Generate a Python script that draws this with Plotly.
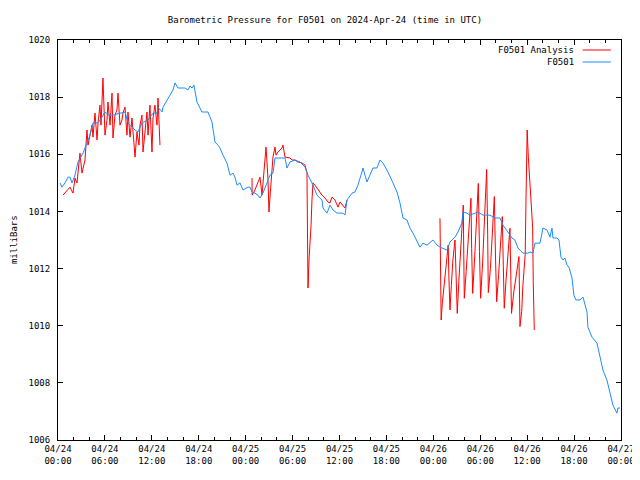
import plotly.graph_objects as go
import pandas as pd

# ---- data (hours after 2024-04-24 00:00 UTC, millibars) ----
blue_hours = [0.26,0.51,0.9,1.28,1.53,1.79,2.17,2.56,3.2,3.71,4.09,4.48,5.12,5.63,6.01,6.52,7.03,7.54,7.93,8.57,
              8.95,9.46,9.85,10.23,10.74,11.51,12.15,12.66,12.79,13.3,13.43,13.81,14.32,14.71,14.96,15.35,15.86,16.24,16.62,16.88,
              17.14,17.39,17.77,18.41,18.93,19.18,19.69,20.08,20.46,20.72,21.1,21.61,22.0,22.38,22.63,22.89,23.27,23.66,24.3,24.55,
              24.81,25.19,25.58,25.83,26.21,26.47,26.73,27.11,27.49,27.75,28.39,29.03,29.28,29.67,30.31,30.95,31.59,31.97,32.61,33.12,
              33.76,33.89,34.4,34.78,35.17,35.68,36.45,36.7,36.96,37.6,37.98,38.36,38.87,39.0,39.51,39.9,40.28,40.79,41.18,41.56,
              42.2,42.84,43.35,43.73,44.12,44.63,45.01,45.4,45.91,46.29,46.68,47.19,47.95,48.47,48.85,49.74,50.13,50.77,51.15,51.66,
              51.79,52.3,52.69,53.32,53.71,54.35,55.24,55.88,56.52,56.91,57.54,58.06,58.44,58.82,59.46,60.1,60.36,60.74,61.0,61.64,
              62.02,62.53,62.92,63.17,63.3,63.81,64.07,64.32,64.58,64.83,65.09,65.35,65.73,65.98,66.24,66.75,67.14,67.39,67.65,67.77,
              68.29,68.93,69.31,69.69,70.2,70.59,70.97,71.48,71.61,71.87]
blue_values = [1015.0,1014.85,1015.0,1015.2,1015.2,1015.0,1015.27,1015.73,1016.04,1016.43,1016.67,1017.1,1017.1,1017.3,1017.48,1017.37,1017.37,1017.41,1017.44,1017.48,
               1017.1,1016.95,1016.85,1016.78,1017.1,1017.2,1017.44,1017.44,1017.65,1017.48,1017.65,1017.83,1018.07,1018.25,1018.5,1018.32,1018.32,1018.32,1018.25,1018.39,
               1018.32,1018.42,1017.83,1017.48,1017.48,1017.48,1017.13,1016.43,1016.32,1016.22,1015.97,1015.69,1015.27,1015.34,1015.2,1014.92,1015.0,1014.75,1014.85,1014.85,
               1014.68,1014.64,1014.57,1014.47,1014.64,1014.82,1015.0,1015.27,1015.34,1015.87,1015.87,1015.87,1015.52,1015.73,1015.8,1015.73,1015.55,1015.27,1014.92,1014.57,
               1014.4,1014.12,1013.94,1014.22,1014.05,1013.94,1013.94,1013.87,1014.4,1014.64,1014.68,1014.92,1015.38,1015.52,1015.03,1015.27,1015.52,1015.52,1015.8,1015.69,
               1015.38,1015.0,1014.68,1014.3,1013.77,1013.7,1013.42,1013.24,1012.93,1012.75,1012.89,1012.82,1013.0,1012.82,1012.75,1012.65,1012.93,1013.1,1013.28,1013.6,
               1013.98,1013.94,1013.87,1013.94,1013.98,1013.87,1013.87,1013.77,1013.77,1013.52,1013.28,1013.07,1013.0,1012.72,1012.54,1012.54,1012.58,1012.54,1012.89,1012.89,
               1013.42,1013.35,1013.1,1013.42,1013.07,1013.07,1013.0,1012.4,1012.3,1012.37,1012.12,1012.05,1011.67,1011.07,1010.9,1010.9,1011.0,1010.72,1010.48,1009.95,
               1009.6,1009.39,1008.9,1008.45,1008.1,1007.68,1007.22,1006.94,1007.12,1007.12]

red_hours = [0.64,1.15,1.53,1.92,2.17,2.43,2.81,3.07,3.45,3.71,3.84,4.35,4.48,4.73,4.99,5.12,5.37,5.5,5.63,5.75,
             6.01,6.27,6.39,6.65,6.91,7.03,7.29,7.54,7.67,7.93,8.18,8.31,8.57,8.82,8.95,9.21,9.46,9.85,10.1,10.36,
             10.49,10.74,10.87,11.13,11.38,11.51,11.76,12.02,12.15,12.4,12.66,12.79,13.04,
             None,
             24.81,24.83,25.19,25.58,25.83,26.09,26.21,26.47,26.6,26.85,26.98,27.11,27.37,27.49,27.75,27.88,28.13,28.64,28.77,29.03,
             29.67,29.92,30.31,30.69,31.2,31.59,31.84,31.9,31.97,32.1,32.23,32.35,32.48,32.61,32.86,33.25,33.76,34.14,34.53,34.78,
             35.04,35.42,35.81,36.06,36.45,36.7,36.96,
             None,
             48.85,48.95,49.0,49.15,49.4,49.65,49.9,50.0,50.13,50.3,50.5,50.77,50.9,51.06,51.25,51.5,51.7,51.83,51.9,51.96,
             52.2,52.5,52.81,52.9,53.03,53.25,53.5,53.75,53.9,54.05,54.3,54.55,54.82,54.95,55.03,55.3,55.55,55.8,55.95,56.1,
             56.35,56.6,56.82,56.95,57.07,57.3,57.55,57.8,57.9,58.0,58.3,58.65,58.95,59.08,59.3,59.45,59.6,59.75,59.85,60.0,
             60.15,60.35,60.56,60.7,60.78,60.91]
red_values = [1014.57,1014.75,1014.85,1014.64,1015.17,1015.0,1016.04,1015.34,1015.8,1016.85,1016.32,1017.02,1016.6,1017.44,1016.5,1017.1,1017.72,1017.02,1018.14,1018.67,
              1016.67,1017.2,1017.83,1017.02,1018.14,1016.57,1017.37,1017.55,1018.14,1017.02,1017.2,1017.44,1017.65,1016.67,1017.48,1016.6,1017.27,1015.9,1016.78,1016.32,
              1017.02,1017.37,1016.08,1016.78,1017.48,1016.67,1017.72,1016.08,1017.27,1017.72,1017.02,1017.97,1016.32,
              None,
              1015.17,1014.57,1014.75,1015.03,1015.2,1014.57,1015.03,1015.87,1016.25,1015.17,1013.98,1014.5,1015.45,1015.9,1016.25,1015.97,1016.08,1016.22,1016.32,1015.9,
              1015.87,1015.8,1015.8,1015.73,1015.7,1015.62,1015.35,1012.55,1011.32,1012.3,1012.75,1013.45,1014.4,1015.0,1014.92,1014.75,1014.57,1014.47,1014.33,1014.3,
              1014.5,1014.4,1014.15,1014.33,1014.22,1014.12,1014.4,
              None,
              1013.76,1011.9,1010.2,1010.8,1011.5,1012.2,1012.82,1011.6,1010.55,1011.4,1012.3,1013.0,1011.8,1010.43,1011.5,1012.6,1013.4,1014.22,1012.3,1010.96,
              1011.9,1013.1,1014.46,1012.7,1011.13,1012.2,1013.6,1014.98,1012.6,1010.96,1012.2,1013.8,1015.47,1013.2,1011.16,1012.0,1013.3,1014.52,1012.4,1010.84,
              1011.8,1012.9,1013.82,1012.1,1010.61,1011.6,1012.6,1013.41,1011.8,1010.43,1011.2,1011.9,1012.42,1009.97,1010.5,1011.4,1012.0,1012.5,1014.4,1016.85,
              1015.9,1015.0,1014.3,1013.45,1011.5,1009.85]

series_names = ["F0501 Analysis", "F0501"]
series_colors = ["#ff0000", "#1a8cff"]
title_text = "Barometric Pressure for F0501 on 2024-Apr-24 (time in UTC)"
y_label = "milliBars"

base = pd.Timestamp("2024-04-24 00:00:00")


def to_times(hours):
    return [base + pd.Timedelta(hours=h) if h is not None else None for h in hours]


FONT = "DejaVu Sans Mono"
TXT = dict(family=FONT, size=9, color="black")

fig = go.Figure()
fig.add_trace(go.Scatter(x=to_times(red_hours), y=red_values, mode="lines",
                         line=dict(color=series_colors[0], width=1), name=series_names[0],
                         connectgaps=False))
fig.add_trace(go.Scatter(x=to_times(blue_hours), y=blue_values, mode="lines",
                         line=dict(color=series_colors[1], width=1), name=series_names[1]))

# page body has an 8px margin, so the figure is 8px smaller and margins shifted
fig.update_layout(
    width=632, height=472,
    margin=dict(l=50, r=19, t=32, b=40, autoexpand=False),
    paper_bgcolor="white", plot_bgcolor="white",
    showlegend=False,
    font=TXT,
    title=dict(text=title_text, x=0.5016, xanchor="center", y=0.9746, yanchor="middle", font=TXT),
)

fig.update_xaxes(
    type="date",
    range=[base, base + pd.Timedelta(hours=72)],
    tick0=base, dtick=6 * 3600 * 1000,
    tickformat="%m/%d<br>%H:%M",
    ticks="inside", ticklen=5, tickcolor="black", tickwidth=1,
    showline=True, linecolor="black", linewidth=1, mirror="ticks",
    showgrid=False, zeroline=False, automargin=False,
    minor=dict(dtick=2 * 3600 * 1000, tick0=base, ticks="inside", ticklen=3,
               tickcolor="black", showgrid=False),
    tickfont=TXT,
)
fig.update_yaxes(
    range=[1006, 1020], dtick=2, tick0=1006,
    ticks="inside", ticklen=5, tickcolor="black", tickwidth=1,
    showline=True, linecolor="black", linewidth=1, mirror="ticks",
    showgrid=False, zeroline=False, automargin=False,
    ticklabelstandoff=5,
    tickfont=TXT,
)

fig.add_annotation(xref="paper", yref="paper", x=-0.078, y=0.5, text=y_label,
                   textangle=-90, showarrow=False, xanchor="center", yanchor="middle", font=TXT)

# gnuplot-style legend (text then sample line), top right inside the plot
legend_rows = [0.975, 0.945]
for name, color, yy in zip(series_names, series_colors, legend_rows):
    fig.add_annotation(xref="paper", yref="paper", x=0.92, y=yy, text=name,
                       showarrow=False, xanchor="right", yanchor="middle", font=TXT)
    fig.add_shape(type="line", xref="paper", yref="paper", x0=0.932, x1=0.982,
                  y0=yy, y1=yy, line=dict(color=color, width=1))

fig.write_html("out.html")
